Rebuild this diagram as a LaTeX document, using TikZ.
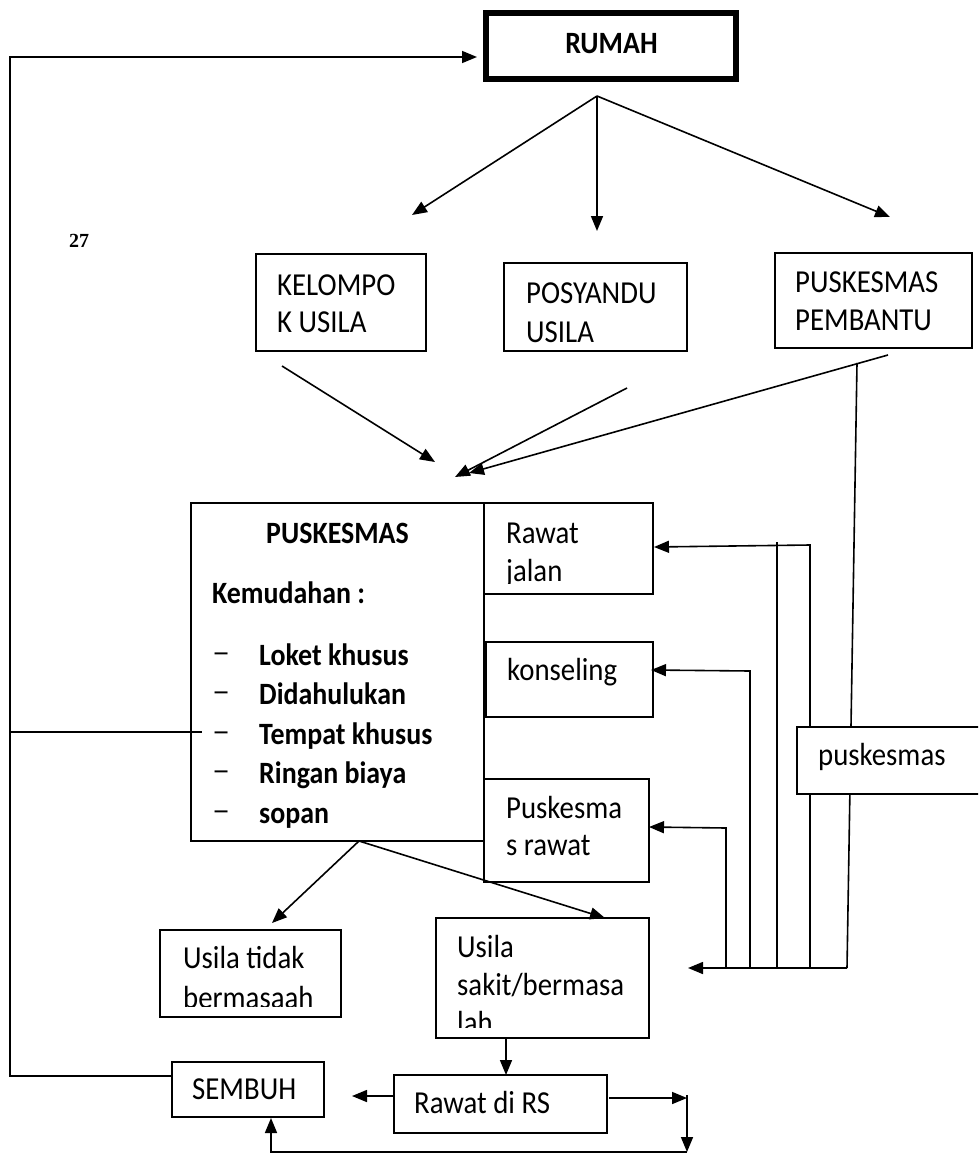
\documentclass[tikz,border=0pt]{standalone}
\usepackage{fontspec}
\usepackage{graphicx}
\setmainfont{Carlito}[FakeStretch=0.9]
\newfontfamily\numfont{Liberation Serif}
\usetikzlibrary{arrows.meta,fit}
\begin{document}
\begin{tikzpicture}[x=1pt,y=-1pt,
  ln/.style={line width=1.6pt},
  arr/.style={line width=1.6pt,-{Triangle[length=15pt,width=12pt]}},
  box/.style={draw,line width=1.6pt,fill=white,inner sep=0pt},
  txt/.style={anchor=base west,inner sep=0pt,font=\fontsize{32}{38}\selectfont},
]
\clip (0,0) rectangle (978,1153);

% ---------- boxes ----------
\node[box,line width=6pt,fit={(486,13) (736,79)}] (rumah) {};
\node[box,fit={(256,254) (426,351)}] (kel) {};
\node[box,fit={(504,263) (687,351)}] (pos) {};
\node[box,fit={(775,253) (972,348)}] (pem) {};
\node[box,fit={(191,503) (484,841)}] (pk) {};
\node[box,fit={(484,503) (653,594)}] (rj) {};
\node[box,fit={(486,642) (653,717)}] (kon) {};
\node[box,fit={(484,779) (649,882)}] (pr) {};
\node[box,fit={(160,930) (341,1017)}] (ut) {};
\node[box,fit={(436,918) (649,1038)}] (us) {};
\node[box,fit={(394,1075) (607,1133)}] (rs) {};
\node[box,fit={(172,1062) (324,1117)}] (sem) {};

% ---------- coordinates ----------
\coordinate (fan) at (597,96);
\coordinate (kelIn) at (412,215);
\coordinate (posIn) at (597,231);
\coordinate (pemIn) at (890,217);
\coordinate (kelOut) at (282,366);
\coordinate (pkIn1) at (435,462);
\coordinate (posOut) at (627,388);
\coordinate (pkIn2) at (455,477);
\coordinate (pemOut) at (888,355);
\coordinate (pkIn3) at (469,473);
\coordinate (pemDown) at (857,363);
\coordinate (busR) at (847,968);
\coordinate (busL) at (688,968);
\coordinate (v810t) at (810,545);
\coordinate (v810b) at (810,968);
\coordinate (rjIn) at (654,547);
\coordinate (v777t) at (777,542);
\coordinate (v777b) at (777,968);
\coordinate (v750t) at (750,671);
\coordinate (v750b) at (750,968);
\coordinate (konIn) at (651,670);
\coordinate (v726t) at (726,828);
\coordinate (v726b) at (726,968);
\coordinate (prIn) at (649,827);
\coordinate (pkOut) at (359,841);
\coordinate (utIn) at (272,923);
\coordinate (usIn) at (605,918);
\coordinate (usOut) at (506,1038);
\coordinate (rsIn) at (506,1075);
\coordinate (rsL) at (394,1096);
\coordinate (semIn) at (352,1096);
\coordinate (rsR) at (609,1098);
\coordinate (rTip) at (687,1098);
\coordinate (dTop) at (687,1095);
\coordinate (dBot) at (687,1152);
\coordinate (bL) at (271,1152);
\coordinate (semUp) at (271,1118);
\coordinate (semL) at (172,1076);
\coordinate (lb) at (10,1076);
\coordinate (lt) at (10,57);
\coordinate (rumIn) at (477,57);
\coordinate (lp) at (10,732);
\coordinate (pkL) at (202,732);

% ---------- connectors ----------
\draw[arr] (fan) -- (kelIn);
\draw[arr] (fan) -- (posIn);
\draw[arr] (fan) -- (pemIn);
\draw[arr] (kelOut) -- (pkIn1);
\draw[arr] (posOut) -- (pkIn2);
\draw[arr] (pemOut) -- (pkIn3);
\draw[ln] (pemDown) -- (busR);
\draw[arr] (busR) -- (busL);
\draw[arr] (v810b) -- (v810t) -- (rjIn);
\draw[ln] (v777b) -- (v777t);
\draw[arr] (v750b) -- (v750t) -- (konIn);
\draw[arr] (v726b) -- (v726t) -- (prIn);
\draw[arr] (pkOut) -- (utIn);
\draw[arr] (pkOut) -- (usIn);
\draw[arr] (usOut) -- (rsIn);
\draw[arr] (rsL) -- (semIn);
\draw[arr] (rsR) -- (rTip);
\draw[arr] (dTop) -- (dBot);
\draw[arr] (dBot) -- (bL) -- (semUp);
\draw[arr] (semL) -- (lb) -- (lt) -- (rumIn);
\draw[ln] (lp) -- (pkL);

\node[box,fit={(797,727) (990,794)}] (pus) {};

% ---------- texts ----------
\node[txt,anchor=base,font=\fontsize{31}{38}\selectfont\bfseries] (rumah-t) at (611.5,54) {RUMAH};
\node[anchor=base west,inner sep=0pt,font=\numfont\bfseries\fontsize{20}{24}\selectfont] (page) at (69,247) {27};
\node[txt,font=\fontsize{32}{37}\selectfont] (kel-t) at (277,295) {\begin{tabular}[t]{@{}l@{}}KELOMPO\\K USILA\end{tabular}};
\node[txt,font=\fontsize{32}{39}\selectfont] (pos-t) at (526,303) {\begin{tabular}[t]{@{}l@{}}POSYANDU\\USILA\end{tabular}};
\node[txt] (pem-t) at (795,292) {\begin{tabular}[t]{@{}l@{}}PUSKESMAS\\PEMBANTU\end{tabular}};

\node[txt,anchor=base,font=\fontsize{31}{38}\selectfont\bfseries] (pk-title) at (337.5,543) {PUSKESMAS};
\node[txt,font=\fontsize{31}{38}\selectfont\bfseries] (pk-sub) at (212,603) {Kemudahan :};
\node[txt,font=\fontsize{31}{39.5}\selectfont] (pk-list) at (212,665) {\begin{tabular}[t]{@{}p{47pt}@{}l@{}}
\raisebox{3pt}{\scalebox{1.3}[1]{–}} & \bfseries Loket khusus\\
\raisebox{3pt}{\scalebox{1.3}[1]{–}} & \bfseries Didahulukan\\
\raisebox{3pt}{\scalebox{1.3}[1]{–}} & \bfseries Tempat khusus\\
\raisebox{3pt}{\scalebox{1.3}[1]{–}} & \bfseries Ringan biaya\\
\raisebox{3pt}{\scalebox{1.3}[1]{–}} & \bfseries sopan
\end{tabular}};

\begin{scope}
\clip (484,503) rectangle (653,583);
\node[txt] (rj-t) at (506,543) {\begin{tabular}[t]{@{}l@{}}Rawat\\jalan\end{tabular}};
\end{scope}
\node[txt] (kon-t) at (507,680) {konseling};
\node[txt,font=\fontsize{32}{37}\selectfont] (pr-t) at (506,818) {\begin{tabular}[t]{@{}l@{}}Puskesma\\s rawat\end{tabular}};
\node[txt] (pus-t) at (818,765) {puskesmas};
\begin{scope}
\clip (160,930) rectangle (341,1006);
\node[txt,font=\fontsize{32}{40}\selectfont] (ut-t) at (183,968) {\begin{tabular}[t]{@{}l@{}}Usila tidak\\bermasaah\end{tabular}};
\end{scope}
\begin{scope}
\clip (436,918) rectangle (649,1027);
\node[txt] (us-t) at (457,957) {\begin{tabular}[t]{@{}l@{}}Usila\\sakit/bermasa\\lah\end{tabular}};
\end{scope}
\node[txt] (rs-t) at (414,1113) {Rawat di RS};
\node[txt] (sem-t) at (192,1099) {SEMBUH};
\end{tikzpicture}
\end{document}
